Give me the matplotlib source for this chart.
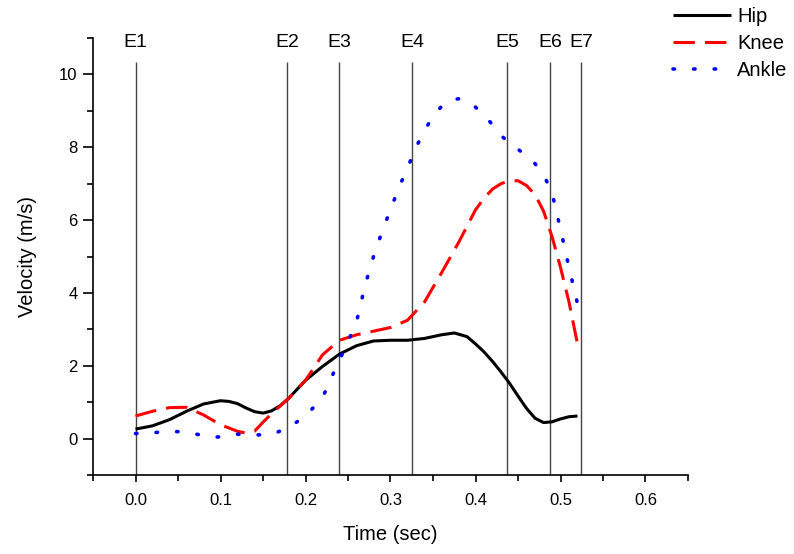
import matplotlib.pyplot as plt

plt.rcParams['font.family'] = ['Liberation Sans', 'DejaVu Sans']

# Data
hip_t = [0.00, 0.02, 0.04, 0.06, 0.08, 0.10, 0.11, 0.12, 0.13, 0.14, 0.15,
         0.16, 0.17, 0.18, 0.20, 0.22, 0.24, 0.26, 0.28, 0.30, 0.32, 0.34,
         0.36, 0.375, 0.39, 0.40, 0.41, 0.42, 0.43, 0.44, 0.45, 0.46, 0.47,
         0.48, 0.49, 0.50, 0.51, 0.52]
hip_v = [0.26, 0.35, 0.52, 0.75, 0.95, 1.04, 1.02, 0.96, 0.84, 0.74, 0.70,
         0.76, 0.90, 1.10, 1.60, 1.98, 2.32, 2.55, 2.68, 2.70, 2.70, 2.75,
         2.85, 2.90, 2.80, 2.60, 2.38, 2.12, 1.83, 1.52, 1.17, 0.83, 0.56,
         0.44, 0.46, 0.54, 0.60, 0.62]

knee_t = [0.00, 0.02, 0.04, 0.06, 0.08, 0.10, 0.12, 0.13, 0.14, 0.15, 0.16,
          0.18, 0.20, 0.22, 0.24, 0.26, 0.28, 0.30, 0.32, 0.34, 0.36, 0.38,
          0.40, 0.41, 0.42, 0.43, 0.44, 0.45, 0.46, 0.47, 0.48, 0.49, 0.50,
          0.51, 0.52]
knee_v = [0.62, 0.75, 0.85, 0.86, 0.65, 0.38, 0.20, 0.15, 0.20, 0.45, 0.68,
          1.10, 1.60, 2.30, 2.70, 2.85, 2.95, 3.05, 3.25, 3.75, 4.55, 5.38,
          6.28, 6.60, 6.85, 7.00, 7.08, 7.08, 6.95, 6.70, 6.25, 5.55, 4.70,
          3.75, 2.60]

ankle_t = [0.00, 0.02, 0.04, 0.06, 0.08, 0.09, 0.10, 0.12, 0.14, 0.16, 0.18,
           0.20, 0.22, 0.23, 0.24, 0.25, 0.26, 0.27, 0.28, 0.29, 0.30, 0.31,
           0.32, 0.33, 0.34, 0.35, 0.36, 0.37, 0.38, 0.39, 0.40, 0.41, 0.42,
           0.43, 0.44, 0.45, 0.46, 0.47, 0.48, 0.49, 0.50, 0.51, 0.52]
ankle_v = [0.14, 0.16, 0.20, 0.18, 0.08, 0.03, 0.05, 0.12, 0.10, 0.11, 0.30,
           0.62, 1.12, 1.65, 2.16, 2.66, 3.20, 4.20, 5.00, 5.68, 6.29, 6.90,
           7.43, 8.00, 8.45, 8.86, 9.12, 9.30, 9.33, 9.28, 9.10, 8.88, 8.62,
           8.32, 8.12, 7.95, 7.75, 7.55, 7.25, 6.75, 5.75, 4.70, 3.70]

event_t = [0.0, 0.1786, 0.2397, 0.3255, 0.4371, 0.4877, 0.5245]
event_labels = ['E1', 'E2', 'E3', 'E4', 'E5', 'E6', 'E7']

fig = plt.figure(figsize=(7.94, 5.54), dpi=100)
ax = fig.add_axes([93 / 794, 1 - 475 / 554, 595 / 794, 437 / 554])

ax.plot(hip_t, hip_v, color='black', lw=2.2, solid_capstyle='butt', label='Hip')
ax.plot(knee_t, knee_v, color='red', lw=2.2, linestyle=(0, (7, 3.3)), label='Knee')
ax.plot(ankle_t, ankle_v, color='blue', lw=2.6, linestyle=(0, (0.4, 5.3)),
        dash_capstyle='round', label='Ankle')

ax.vlines(event_t, -1, 10.35, color='#444444', lw=1.0, zorder=1)
for t, lab in zip(event_t, event_labels):
    ax.text(t, 10.88, lab, ha='center', va='center', fontsize=14)

ax.set_xlim(-0.05, 0.65)
ax.set_ylim(-1, 11)
ax.set_xticks([0.0, 0.1, 0.2, 0.3, 0.4, 0.5, 0.6])
ax.set_xticks([-0.05, 0.05, 0.15, 0.25, 0.35, 0.45, 0.55, 0.65], minor=True)
ax.set_yticks([0, 2, 4, 6, 8, 10])
ax.set_yticks([-1, 1, 3, 5, 7, 9, 11], minor=True)
ax.set_xticklabels(['0.0', '0.1', '0.2', '0.3', '0.4', '0.5', '0.6'])

for s in ['top', 'right']:
    ax.spines[s].set_visible(False)
for s in ['left', 'bottom']:
    ax.spines[s].set_linewidth(1.2)

ax.tick_params(axis='both', which='both', direction='out', width=1.2, labelsize=12)
ax.tick_params(axis='y', which='major', length=7, pad=4)
ax.tick_params(axis='y', which='minor', length=4.5)
ax.tick_params(axis='x', which='major', length=5, pad=8)
ax.tick_params(axis='x', which='minor', length=4.5)

ax.set_xlabel('Time (sec)', fontsize=14.5, labelpad=12)
ax.set_ylabel('Velocity (m/s)', fontsize=14.5, labelpad=16)

fig.legend(loc='upper left', bbox_to_anchor=(673 / 794, 1 - 7 / 554),
           frameon=False, fontsize=14.5, handlelength=2.9, handletextpad=0.3,
           labelspacing=0.4, borderpad=0, borderaxespad=0)

fig.savefig('out.png', dpi=100)
